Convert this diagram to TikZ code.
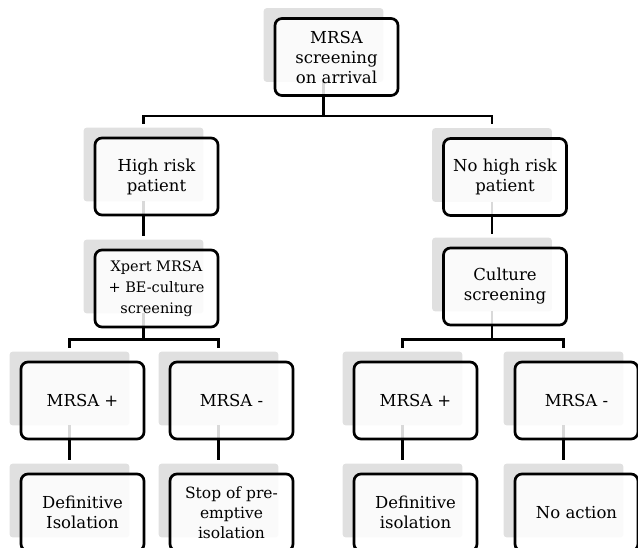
\documentclass[tikz,border=0pt]{standalone}
\usepackage{fontspec}
\setmainfont{DejaVu Serif}
\usetikzlibrary{calc,backgrounds}

\tikzset{
  box/.style={draw, line width=2.7pt, rounded corners=7pt, fill=white, fill opacity=0.85,
    text opacity=1, minimum width=123pt, minimum height=77pt, inner sep=2pt, align=center,
    font=\fontsize{16.5}{20}\selectfont},
  shade/.style={fill=black!12, rounded corners=3pt},
  link/.style={line width=2.6pt},
}

\begin{document}
\begin{tikzpicture}[x=1pt,y=-1pt]
  \clip (0,0) rectangle (638,547);

  % Boxes
  \node[box] (arrival) at (336.5,57) {MRSA\\screening\\on arrival};
  \node[box] (high) at (156.5,176.5) {High risk\\patient};
  \node[box] (nohigh) at (505,177) {No high risk\\patient};
  \node[box,font=\fontsize{14.5}{21}\selectfont] (xpert) at (156.5,288.5) {Xpert MRSA\\+ BE-culture\\screening};
  \node[box] (culture) at (505,286.5) {Culture\\screening};
  \node[box] (posL) at (82.5,400.5) {MRSA +};
  \node[box] (negL) at (231.5,400.5) {MRSA -};
  \node[box] (posR) at (415.5,400.5) {MRSA +};
  \node[box] (negR) at (576.5,400.5) {MRSA -};
  \node[box] (isoL) at (82.5,512.5) {Definitive\\Isolation};
  \node[box,font=\fontsize{15.5}{20}\selectfont] (stopL) at (231.5,512.5) {Stop of pre-\\emptive\\isolation};
  \node[box] (isoR) at (415.5,512.5) {Definitive\\isolation};
  \node[box] (noact) at (576.5,512.5) {No action};

  \begin{scope}[on background layer]
    % Grey shadows
    \foreach \n in {arrival,high,nohigh,xpert,culture,posL,negL,posR,negR,isoL,stopL,isoR,noact}
      \fill[shade] ($(\n.north west)+(-10,-9)$) rectangle ($(\n.south east)+(-16,-15)$);

    % Links
    \draw[link] ($(arrival.south)+(-13,-15)$) -- ++(0,34) -| ($(high.north)+(-13,-13)$);
    \draw[link] ($(arrival.south)+(-13,-15)$) -- ++(0,34) -| ($(nohigh.north)+(-13,-13)$);
    \draw[link] ($(high.south)+(-13,-15)$) -- ($(xpert.north)+(-13,-13)$);
    \draw[link] ($(nohigh.south)+(-13,-15)$) -- ($(culture.north)+(-13,-13)$);
    \draw[link] ($(xpert.south)+(-13,-15)$) -- ++(0,26) -| ($(posL.north)+(-13,-13)$);
    \draw[link] ($(xpert.south)+(-13,-15)$) -- ++(0,26) -| ($(negL.north)+(-13,-13)$);
    \draw[link] ($(culture.south)+(-13,-15)$) -- ++(0,28) -| ($(posR.north)+(-13,-13)$);
    \draw[link] ($(culture.south)+(-13,-15)$) -- ++(0,28) -| ($(negR.north)+(-13,-13)$);
    \draw[link] ($(posL.south)+(-13,-15)$) -- ($(isoL.north)+(-13,-13)$);
    \draw[link] ($(negL.south)+(-13,-15)$) -- ($(stopL.north)+(-13,-13)$);
    \draw[link] ($(posR.south)+(-13,-15)$) -- ($(isoR.north)+(-13,-13)$);
    \draw[link] ($(negR.south)+(-13,-15)$) -- ($(noact.north)+(-13,-13)$);
  \end{scope}
\end{tikzpicture}
\end{document}
